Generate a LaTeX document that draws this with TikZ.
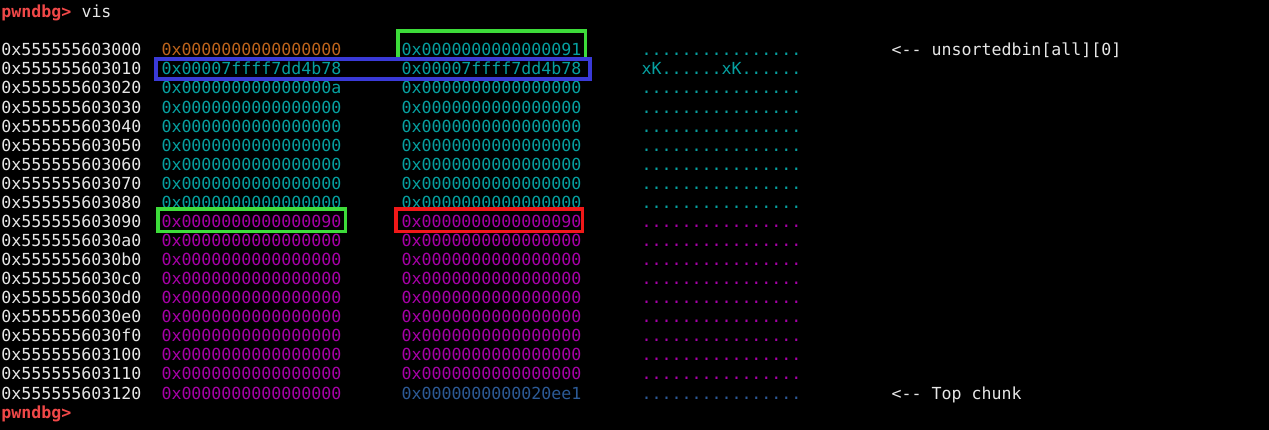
\documentclass[tikz,border=0pt]{standalone}
\usepackage{fontspec}
\setmonofont{DejaVu Sans Mono}
\definecolor{twhite}{HTML}{E6E6E6}
\definecolor{torange}{HTML}{BE641C}
\definecolor{tteal}{HTML}{06A0A0}
\definecolor{tmag}{HTML}{A800A8}
\definecolor{tblue}{HTML}{2C5A96}
\definecolor{tred}{HTML}{F04848}
\definecolor{bgreen}{HTML}{3DDC3A}
\definecolor{bblue}{HTML}{3A3AD8}
\definecolor{bred}{HTML}{F01818}
\begin{document}
\begin{tikzpicture}[x=1pt,y=-1pt,
  txt/.style={anchor=base west,inner sep=0pt,outer sep=0pt,font=\ttfamily\fontsize{16.61}{19}\selectfont},
  addr/.style={txt,text=twhite},
  hl/.style={line width=3.5pt}]
\fill[black] (0,0) rectangle (1269,430);
\useasboundingbox (0,0) rectangle (1269,430);
\def\cw{10}
\def\xo{1.5}
% prompt
\node[txt,text=tred,font=\ttfamily\bfseries\fontsize{16.61}{19}\selectfont] (p1) at (\xo,17.6) {pwndbg>};
\node[txt,text=twhite] (p1c) at ({\xo+8*\cw},17.6) {vis};
% row 0
\node[addr] (a0) at (\xo,55.8) {0x555555603000};
\node[txt,text=torange] (b0) at ({\xo+16*\cw},55.8) {0x0000000000000000};
\node[txt,text=tteal] (c0) at ({\xo+40*\cw},55.8) {0x0000000000000091};
\node[txt,text=tteal] (d0) at ({\xo+64*\cw},55.8) {................};
\node[txt,text=twhite] (e0) at ({\xo+89*\cw},55.8) {<{-}{-} unsortedbin[all][0]};
% row 1
\node[addr] (a1) at (\xo,{55.8+19.07}) {0x555555603010};
\node[txt,text=tteal] (b1) at ({\xo+16*\cw},{55.8+19.07}) {0x00007ffff7dd4b78};
\node[txt,text=tteal] (c1) at ({\xo+40*\cw},{55.8+19.07}) {0x00007ffff7dd4b78};
\node[txt,text=tteal] (d1) at ({\xo+64*\cw},{55.8+19.07}) {xK......xK......};
% row 2
\node[addr] (a2) at (\xo,{55.8+2*19.07}) {0x555555603020};
\node[txt,text=tteal] (b2) at ({\xo+16*\cw},{55.8+2*19.07}) {0x000000000000000a};
\node[txt,text=tteal] (c2) at ({\xo+40*\cw},{55.8+2*19.07}) {0x0000000000000000};
\node[txt,text=tteal] (d2) at ({\xo+64*\cw},{55.8+2*19.07}) {................};
% teal zero rows
\foreach \i/\a in {3/3030,4/3040,5/3050,6/3060,7/3070,8/3080}{
  \node[addr] (a\i) at (\xo,{55.8+\i*19.07}) {0x55555560\a};
  \node[txt,text=tteal] (b\i) at ({\xo+16*\cw},{55.8+\i*19.07}) {0x0000000000000000};
  \node[txt,text=tteal] (c\i) at ({\xo+40*\cw},{55.8+\i*19.07}) {0x0000000000000000};
  \node[txt,text=tteal] (d\i) at ({\xo+64*\cw},{55.8+\i*19.07}) {................};
}
% row 9
\node[addr] (a9) at (\xo,{55.8+9*19.07}) {0x555555603090};
\node[txt,text=tmag] (b9) at ({\xo+16*\cw},{55.8+9*19.07}) {0x0000000000000090};
\node[txt,text=tmag] (c9) at ({\xo+40*\cw},{55.8+9*19.07}) {0x0000000000000090};
\node[txt,text=tmag] (d9) at ({\xo+64*\cw},{55.8+9*19.07}) {................};
% magenta zero rows
\foreach \i/\a in {10/30a0,11/30b0,12/30c0,13/30d0,14/30e0,15/30f0,16/3100,17/3110}{
  \node[addr] (a\i) at (\xo,{55.8+\i*19.07}) {0x55555560\a};
  \node[txt,text=tmag] (b\i) at ({\xo+16*\cw},{55.8+\i*19.07}) {0x0000000000000000};
  \node[txt,text=tmag] (c\i) at ({\xo+40*\cw},{55.8+\i*19.07}) {0x0000000000000000};
  \node[txt,text=tmag] (d\i) at ({\xo+64*\cw},{55.8+\i*19.07}) {................};
}
% row 18
\node[addr] (a18) at (\xo,{55.8+18*19.07}) {0x555555603120};
\node[txt,text=tmag] (b18) at ({\xo+16*\cw},{55.8+18*19.07}) {0x0000000000000000};
\node[txt,text=tblue] (c18) at ({\xo+40*\cw},{55.8+18*19.07}) {0x0000000000020ee1};
\node[txt,text=tblue] (d18) at ({\xo+64*\cw},{55.8+18*19.07}) {................};
\node[txt,text=twhite] (e18) at ({\xo+89*\cw},{55.8+18*19.07}) {<{-}{-} Top chunk};
% final prompt
\node[txt,text=tred,font=\ttfamily\bfseries\fontsize{16.61}{19}\selectfont] (p2) at (\xo,{55.8+19*19.07}) {pwndbg>};
% highlight boxes
\draw[hl,bgreen] (397.8,30.8) rectangle (585.5,59.5);
\draw[hl,bblue] (155.8,58.8) rectangle (589.9,79.2);
\draw[hl,bgreen] (157.8,209.1) rectangle (345.7,231.5);
\draw[hl,bred] (395.8,209.1) rectangle (582.3,231.5);
\end{tikzpicture}
\end{document}
